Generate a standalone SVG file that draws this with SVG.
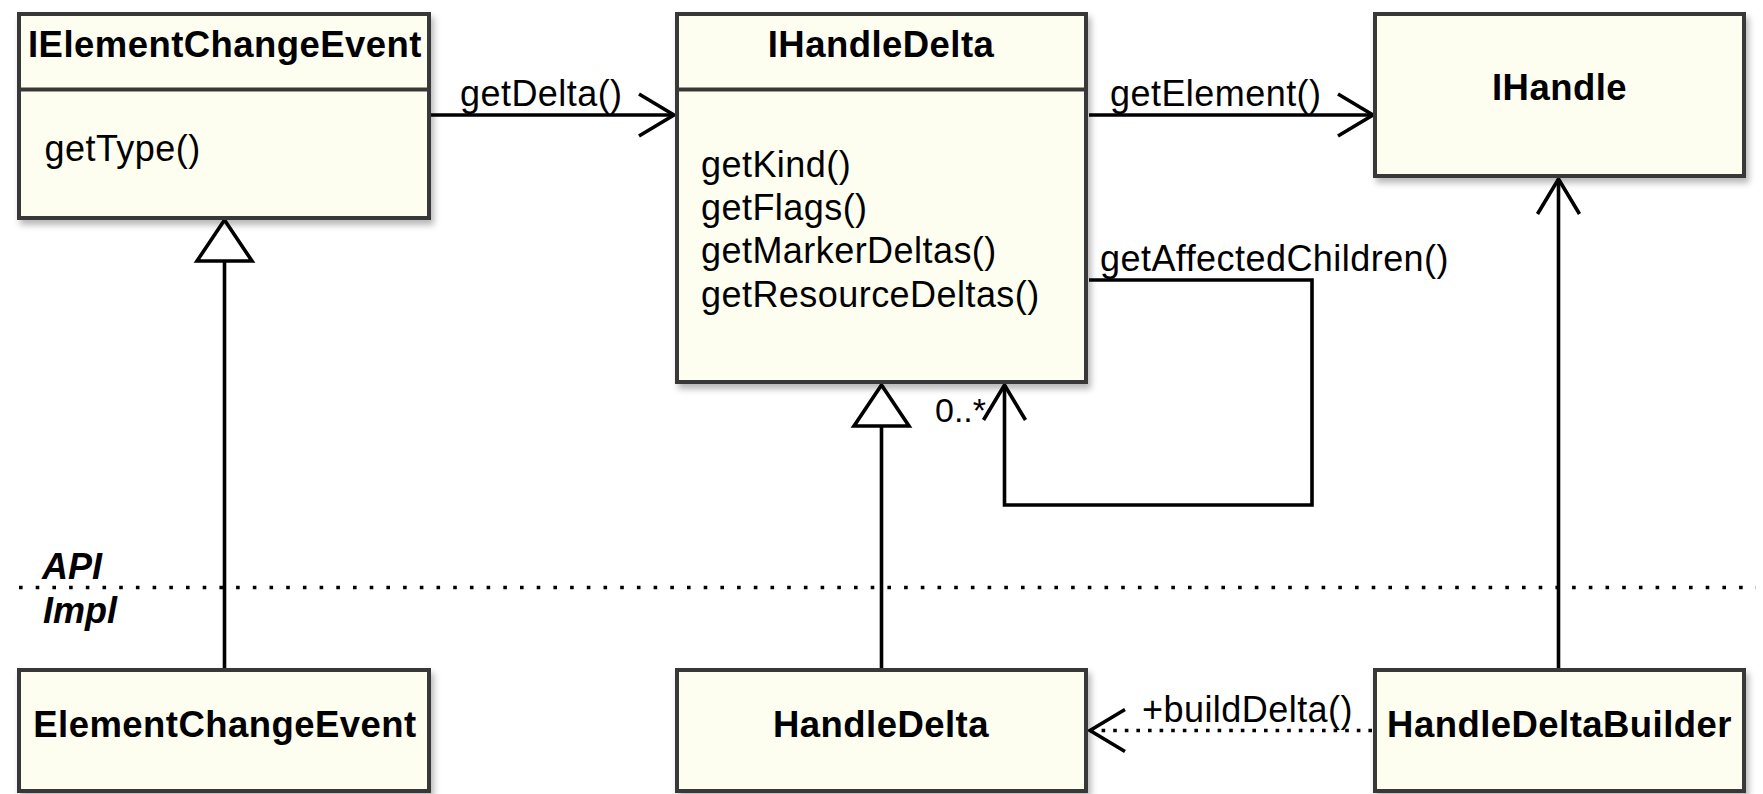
<svg xmlns="http://www.w3.org/2000/svg" width="1763" height="794" viewBox="0 0 1763 794">
  <style>
    .box { fill: #fefef0; stroke: #383838; stroke-width: 4; filter: url(#shadow); }
    .div { stroke: #383838; stroke-width: 4; }
    .title { font-family: "Liberation Sans", Arial, sans-serif; font-size: 36.5px; font-weight: bold; letter-spacing: 0.45px; fill: #000; text-anchor: middle; }
    .txt { font-family: "Liberation Sans", Arial, sans-serif; font-size: 36px; letter-spacing: 0.45px; fill: #000; }
    .lyr { font-family: "Liberation Sans", Arial, sans-serif; font-size: 36px; font-weight: bold; font-style: italic; fill: #000; }
    .conn { fill: none; stroke: #000; stroke-width: 3.6; }
    .dots { fill: none; stroke: #000; stroke-width: 3.6; stroke-dasharray: 3.6 8; }
    .sep { fill: none; stroke: #000; stroke-width: 3.6; stroke-dasharray: 3.6 13.1; }
  </style>
  <defs>
    <filter id="shadow" x="-5%" y="-5%" width="115%" height="120%">
      <feDropShadow dx="3" dy="5" stdDeviation="3" flood-color="#000" flood-opacity="0.28"/>
    </filter>
    <!-- open arrowhead for associations/dependencies -->
    <marker id="open" markerUnits="userSpaceOnUse" viewBox="-40 -25 44 50" markerWidth="44" markerHeight="50" refX="0" refY="0" orient="auto" overflow="visible">
      <path d="M-35,-21 L0,0 L-35,21" fill="none" stroke="#000" stroke-width="3.6" stroke-dasharray="none"/>
    </marker>
    <!-- hollow triangle for generalisation -->
    <marker id="tri" markerUnits="userSpaceOnUse" viewBox="-45 -31 48 62" markerWidth="48" markerHeight="62" refX="0" refY="0" orient="auto" overflow="visible">
      <path d="M0,0 L-41,-27.5 L-41,27.5 Z" fill="#fff" stroke="#000" stroke-width="3.6" stroke-linejoin="miter"/>
    </marker>
  </defs>

  <!-- API / Impl layer separator -->
  <g id="layers">
    <line class="sep" x1="19" y1="587.5" x2="1756" y2="587.5"/>
    <text class="lyr" x="42" y="579">API</text>
    <text class="lyr" x="43" y="623">Impl</text>
  </g>

  <!-- connectors -->
  <g id="connectors">
    <line class="conn" x1="431" y1="115" x2="674" y2="115" marker-end="url(#open)"/>
    <text class="txt" x="460" y="106">getDelta()</text>

    <line class="conn" x1="1089" y1="115" x2="1373" y2="115" marker-end="url(#open)"/>
    <text class="txt" x="1110" y="106">getElement()</text>

    <path class="conn" d="M1089,280 H1312 V505 H1004.5 V385" marker-end="url(#open)"/>
    <text class="txt" x="1100" y="271">getAffectedChildren()</text>
    <text class="txt" x="935" y="422" style="font-size:34px;letter-spacing:0">0..*</text>

    <line class="conn" x1="224.5" y1="668" x2="224.5" y2="220" marker-end="url(#tri)"/>
    <line class="conn" x1="881.5" y1="668" x2="881.5" y2="385" marker-end="url(#tri)"/>

    <line class="conn" x1="1558.5" y1="668" x2="1558.5" y2="179" marker-end="url(#open)"/>

    <line class="dots" x1="1372" y1="730.5" x2="1090" y2="730.5" marker-end="url(#open)"/>
    <text class="txt" x="1142" y="722">+buildDelta()</text>
  </g>

  <g id="IElementChangeEvent">
    <rect class="box" x="19" y="14" width="410" height="204"/>
    <line class="div" x1="19" y1="89.5" x2="429" y2="89.5"/>
    <text class="title" x="225" y="57">IElementChangeEvent</text>
    <text class="txt" x="44.5" y="161">getType()</text>
  </g>

  <g id="IHandleDelta">
    <rect class="box" x="677" y="14" width="409" height="368"/>
    <line class="div" x1="677" y1="89.5" x2="1086" y2="89.5"/>
    <text class="title" x="881" y="57">IHandleDelta</text>
    <text class="txt" x="701" y="177">getKind()</text>
    <text class="txt" x="701" y="220">getFlags()</text>
    <text class="txt" x="701" y="263">getMarkerDeltas()</text>
    <text class="txt" x="701" y="307">getResourceDeltas()</text>
  </g>

  <g id="IHandle">
    <rect class="box" x="1375" y="14" width="369" height="162"/>
    <text class="title" x="1559.5" y="100">IHandle</text>
  </g>

  <g id="ElementChangeEvent">
    <rect class="box" x="19" y="670" width="410" height="121"/>
    <text class="title" x="225" y="737">ElementChangeEvent</text>
  </g>

  <g id="HandleDelta">
    <rect class="box" x="677" y="670" width="409" height="121"/>
    <text class="title" x="881" y="737">HandleDelta</text>
  </g>

  <g id="HandleDeltaBuilder">
    <rect class="box" x="1375" y="670" width="369" height="121"/>
    <text class="title" x="1559.5" y="737">HandleDeltaBuilder</text>
  </g>
</svg>
